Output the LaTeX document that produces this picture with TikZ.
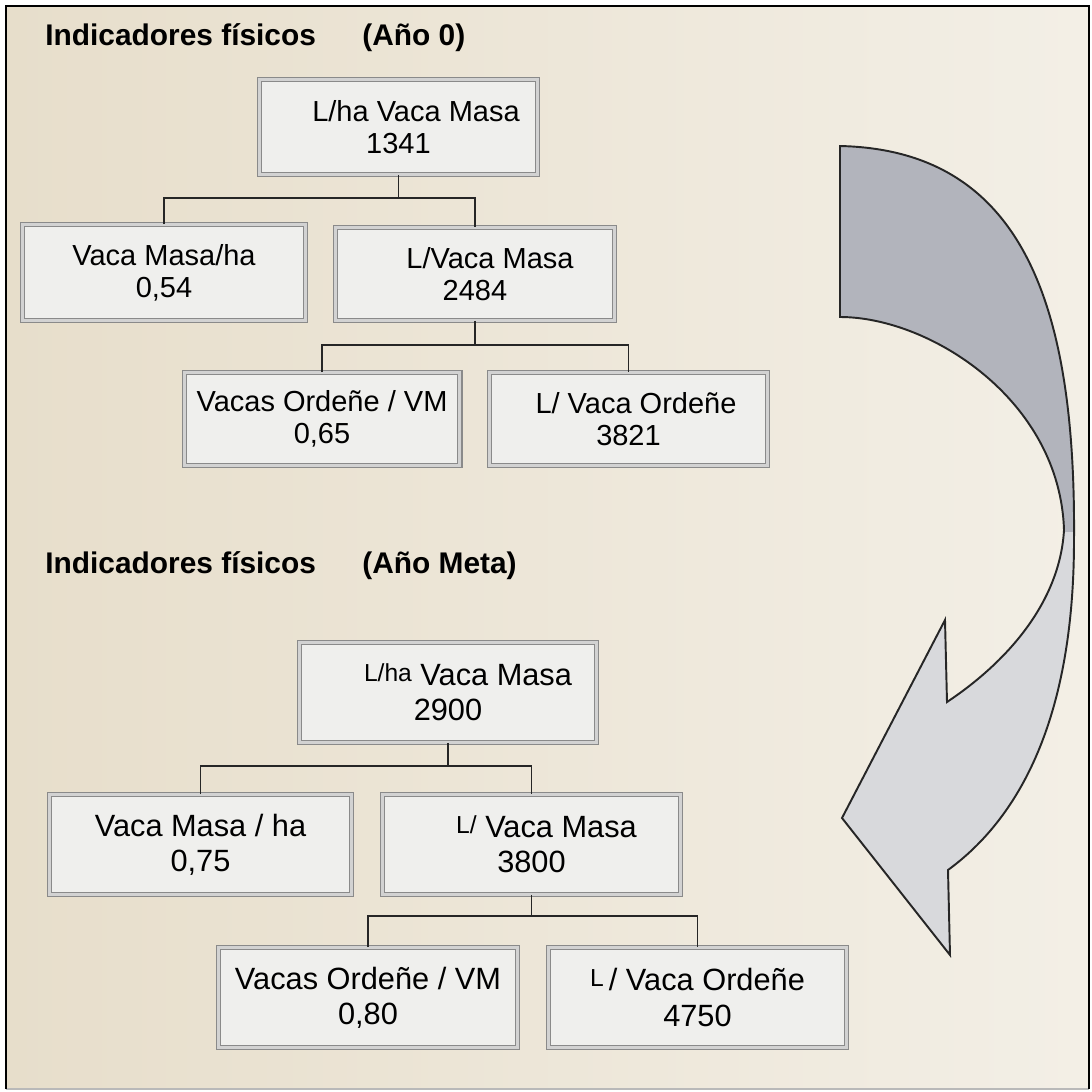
\documentclass[tikz,border=0pt]{standalone}
\usepackage{fontspec}
\setmainfont{Liberation Sans}
\usetikzlibrary{positioning,calc}
\usepackage{xcolor}
\definecolor{paperleft}{HTML}{E7DECB}
\definecolor{paperright}{HTML}{F3EFE6}
\definecolor{boxfill}{HTML}{EFEFED}
\definecolor{boxline}{HTML}{8A8A8A}
\definecolor{boxgap}{HTML}{D2D2D2}
\definecolor{arrowdark}{HTML}{B2B4BC}
\definecolor{arrowlight}{HTML}{D8D9DC}
\definecolor{linkcol}{HTML}{262626}

\tikzset{
  indbox/.style 2 args={draw=boxline, double=boxgap, double distance=1.6pt,
    line width=0.7pt, fill=boxfill, align=center, inner sep=0pt,
    minimum width=#1*0.2mm-3pt, minimum height=#2*0.2mm-3pt},
  smalltext/.style={font=\fontsize{16.5}{18.2}\selectfont},
  bigtext/.style={font=\fontsize{17.5}{20}\selectfont},
  heading/.style={font=\fontsize{17}{20}\selectfont\bfseries, anchor=base west, inner sep=0pt},
  link/.style={draw=linkcol, line width=0.9pt}
}

% silhouette of the bent arrow (pixel grid, y downwards)
\newcommand{\turnarrow}{(840,146) .. controls (1020,150) and (1076,300) .. (1074,540)
  .. controls (1074,700) and (1030,810) .. (948,870) -- (950,955) -- (842,818)
  -- (945,620) -- (947,702) .. controls (1010,660) and (1060,600) .. (1064,530)
  .. controls (1060,400) and (930,317) .. (840,317) -- cycle}
\newcommand{\minorL}[1]{\raisebox{0.25ex}{\fontsize{14}{16}\selectfont #1}}

\begin{document}
\begin{tikzpicture}[x=0.2mm, y=-0.2mm]
  \useasboundingbox (0,0) rectangle (1092,1092);
  % paper and frame
  \shade[left color=paperleft, right color=paperright] (6,6) rectangle (1089,1089);
  \draw[gray!55, line width=1pt] (6,1089) -- (1089,1089);
  \draw[black, line width=1.5pt] (6,1089) -- (6,6) -- (1089,6) -- (1089,1089);

  % bent arrow on the right
  \begin{scope}
    \clip \turnarrow;
    \fill[arrowlight] (820,130) rectangle (1092,970);
    \fill[arrowdark]  (820,130) rectangle (1092,532);
  \end{scope}
  \draw[linkcol, line width=1.1pt, line join=miter] \turnarrow;

  % Year 0
  \node[heading] (titA) at (45,45)  {Indicadores físicos};
  \node[heading] (yrA)  at (362,45) {(Año 0)};
  \node[indbox={283}{100}, smalltext] (lhaA)  at (398.5,127) {\hspace*{0.7cm}L/ha Vaca Masa\\1341};
  \node[indbox={288}{101}, smalltext] (vmhaA) at (164,272.5)  {Vaca Masa/ha\\0,54};
  \node[indbox={284}{98},  smalltext] (lvmA)  at (475,274)    {\hspace*{0.6cm}L/Vaca Masa\\2484};
  \node[indbox={281}{98},  smalltext] (voA)   at (322,419)    {Vacas Ordeñe / VM\\0,65};
  \node[indbox={283}{98},  smalltext] (lvoA)  at (628.5,419)  {\hspace*{0.3cm}L/ Vaca Ordeñe\\3821};

  \draw[link] (lhaA.south) -- ++(0,23) coordinate (barA);
  \draw[link] (vmhaA.north) |- (barA) -| (lvmA.north);
  \draw[link] (lvmA.south) -- ++(0,24) coordinate (barB);
  \draw[link] (voA.north) |- (barB) -| (lvoA.north);

  % target year
  \node[heading] (titB) at (45,573)  {Indicadores físicos};
  \node[heading] (yrB)  at (362,573) {(Año Meta)};
  \node[indbox={302}{105}, bigtext] (lhaB)  at (448,692.5)   {\hspace*{0.8cm}\minorL{L/ha} Vaca Masa\\2900};
  \node[indbox={307}{105}, bigtext] (vmhaB) at (200.5,844.5) {Vaca Masa / ha\\0,75};
  \node[indbox={303}{105}, bigtext] (lvmB)  at (531.5,844.5) {\hspace*{0.6cm}\minorL{L/} Vaca Masa\\3800};
  \node[indbox={304}{105}, bigtext] (voB)   at (368,997.5)   {Vacas Ordeñe / VM\\0,80};
  \node[indbox={303}{105}, bigtext] (lvoB)  at (697.5,997.5) {\minorL{L}\,/ Vaca Ordeñe\\4750};

  \draw[link] (lhaB.south) -- ++(0,23) coordinate (barC);
  \draw[link] (vmhaB.north) |- (barC) -| (lvmB.north);
  \draw[link] (lvmB.south) -- ++(0,21) coordinate (barD);
  \draw[link] (voB.north) |- (barD) -| (lvoB.north);
\end{tikzpicture}
\end{document}
